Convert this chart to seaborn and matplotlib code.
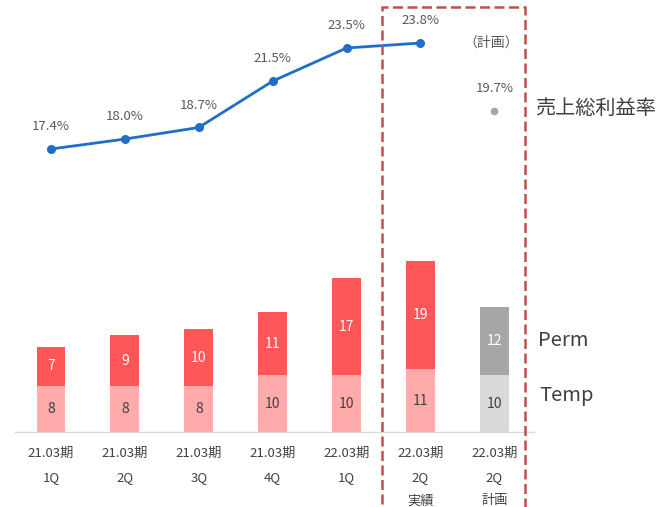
import matplotlib
matplotlib.use("Agg")
import matplotlib.pyplot as plt
import seaborn as sns
import pandas as pd
from matplotlib.patches import Rectangle

# ---- data ----
categories = ["21.03期\n1Q", "21.03期\n2Q", "21.03期\n3Q", "21.03期\n4Q",
              "22.03期\n1Q", "22.03期\n2Q\n実績", "22.03期\n2Q\n計画"]
temp = [8, 8, 8, 10, 10, 11, 10]
perm = [7, 9, 10, 11, 17, 19, 12]
margin = [17.4, 18.0, 18.7, 21.5, 23.5, 23.8]
plan_margin = 19.7
margin_label = "売上総利益率"
plan_label = "（計画）"
perm_label = "Perm"
temp_label = "Temp"

# ---- style ----
sns.set_theme(style="white")
plt.rcParams['font.family'] = ['Noto Sans CJK JP', 'DejaVu Sans']

perm_colors = ["#FF5757"] * 6 + ["#A6A6A6"]
temp_colors = ["#FFABAB"] * 6 + ["#D9D9D9"]
line_color = "#1F6FC8"
text_dark = "#404040"
text_gray = "#595959"

W, H = 666, 507
fig = plt.figure(figsize=(W / 100, H / 100), dpi=100)
ax = fig.add_axes([15 / W, (H - 432) / H, (534 - 15) / W, (432 - 7) / H])

df = pd.DataFrame({"category": categories,
                   "temp": temp,
                   "total": [t + p for t, p in zip(temp, perm)]})

sns.barplot(data=df, x="category", y="total", hue="category", palette=perm_colors,
            order=categories, hue_order=categories, width=0.39, dodge=False,
            legend=False, saturation=1, linewidth=0, ax=ax)
sns.barplot(data=df, x="category", y="temp", hue="category", palette=temp_colors,
            order=categories, hue_order=categories, width=0.39, dodge=False,
            legend=False, saturation=1, linewidth=0, ax=ax)

for i, (t, p) in enumerate(zip(temp, perm)):
    ax.text(i, t / 2, f"{t}", ha="center", va="center", fontsize=10, color=text_dark)
    ax.text(i, t + p / 2, f"{p}", ha="center", va="center", fontsize=10, color="white")

ax.set_xlim(-0.487, 6.536)
ax.set_ylim(0, 74.6)
ax.set_xlabel("")
ax.set_ylabel("")
ax.set_yticks([])
ax.set_xticks(range(len(categories)))
ax.set_xticklabels(categories, fontsize=9.5, color=text_dark, linespacing=2.05)
ax.tick_params(axis="x", length=0, pad=11)
for s in ["top", "left", "right"]:
    ax.spines[s].set_visible(False)
ax.spines["bottom"].set_color("#D9D9D9")
ax.spines["bottom"].set_linewidth(1)

# ---- line (gross margin) ----
ax2 = ax.twinx()
sns.lineplot(x=list(range(len(margin))), y=margin, ax=ax2, color=line_color,
             linewidth=2, marker="o", markersize=6.5, markeredgewidth=0)
sns.scatterplot(x=[len(categories) - 1], y=[plan_margin], ax=ax2, color="#A6A6A6",
                s=30, linewidth=0)
for i, v in enumerate(margin):
    ax2.annotate(f"{v:.1f}%", (i, v), xytext=(0, 16), textcoords="offset points",
                 ha="center", va="center", fontsize=9.5, color=text_gray)
ax2.annotate(f"{plan_margin:.1f}%", (len(categories) - 1, plan_margin), xytext=(0, 16),
             textcoords="offset points", ha="center", va="center", fontsize=9.5,
             color=text_gray)
ax2.set_ylim(0.31, 25.975)
ax2.set_xlim(-0.487, 6.536)
ax2.set_yticks([])
ax2.set_ylabel("")
for s in ax2.spines.values():
    s.set_visible(False)

# ---- annotations ----
fig.text(491 / W, 1 - 43 / H, plan_label, ha="center", va="center", fontsize=10,
         color=text_gray)
fig.text(535 / W, 1 - 108 / H, margin_label, ha="left", va="center", fontsize=14.5,
         color=text_dark)
fig.text(538 / W, 1 - 341 / H, perm_label, ha="left", va="center", fontsize=14.5,
         color=text_dark)
fig.text(539 / W, 1 - 396 / H, temp_label, ha="left", va="center", fontsize=14.5,
         color=text_dark)

rect = Rectangle((382 / W, -0.05), (525 - 382) / W, (1 - 7 / H) + 0.05,
                 transform=fig.transFigure, fill=False, edgecolor="#C0504D",
                 linestyle=(0, (4, 1.8)), linewidth=1.8, clip_on=False)
fig.add_artist(rect)

fig.savefig("out.png", dpi=100)
